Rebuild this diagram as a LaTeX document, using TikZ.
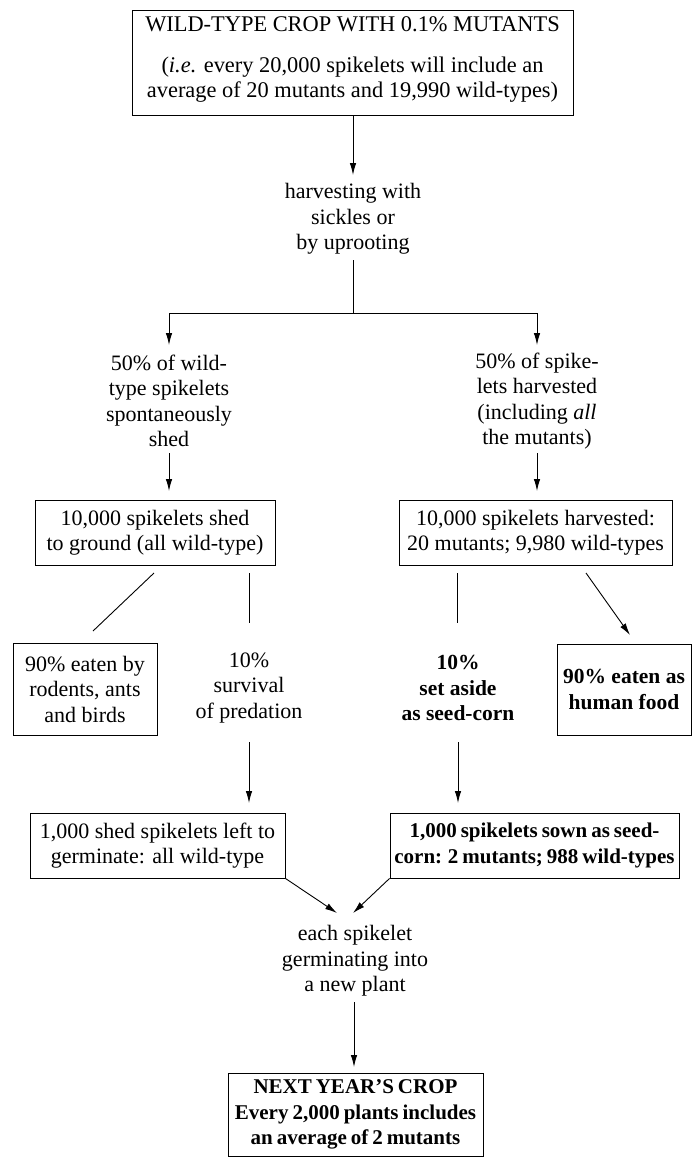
\documentclass[tikz,border=0pt]{standalone}
\usepackage{fontspec}
\setmainfont{Liberation Serif}
\usetikzlibrary{arrows.meta}
\newcommand\bfnarrowfont{\fontsize{21}{25.5}\selectfont\bfseries\spaceskip=0.19em plus 0.05em\relax}
\newcommand\bfplainfont{\fontsize{21.5}{25.5}\selectfont\bfseries}
\begin{document}
\begin{tikzpicture}[x=1pt,y=-1pt,
  every node/.style={font=\fontsize{22}{25.5}\selectfont, align=center, inner sep=0pt},
  bftxt/.style={font=\bfnarrowfont},
  bfwide/.style={font=\bfplainfont},
  box/.style={draw, line width=0.9pt},
  ln/.style={line width=0.9pt},
  arr/.style={line width=0.9pt, -{Latex[length=12pt,width=6.5pt]}}]
\useasboundingbox (0,0) rectangle (692,1157);

% boxes and texts
\node[box, minimum width=441pt, minimum height=105pt] (top) at (352.5,62.5) {};
\node[font=\fontsize{22.4}{25}\selectfont] (toptxt) at (352.5,59) {WILD-TYPE CROP WITH 0.1\% MUTANTS\\[16pt](\textit{i.e.} every 20,000 spikelets will include an\\average of 20 mutants and 19,990 wild-types)};
\node (harv) at (353,219) {harvesting with\\sickles or\\by uprooting};
\node (lt) at (169,401) {50\% of wild-\\type spikelets\\spontaneously\\shed};
\node (rt) at (537,401) {50\% of spike-\\lets harvested\\(including \textit{all}\\the mutants)};
\node[box, minimum width=240pt, minimum height=65pt] (lbox) at (155,532.5) {10,000 spikelets shed\\to ground (all wild-type)};
\node[box, minimum width=273pt, minimum height=65pt] (rbox) at (535.5,532.5) {10,000 spikelets harvested:\\20 mutants; 9,980 wild-types};
\node[box, minimum width=144pt, minimum height=92pt] (eat1) at (85,689) {90\% eaten by\\rodents, ants\\and birds};
\node (surv) at (249,688) {10\%\\survival\\of predation};
\node[bfwide] (seed) at (458,688) {10\%\\set aside\\as seed-corn};
\node[box, bfwide, minimum width=134pt, minimum height=91pt] (eat2) at (624,689.5) {90\% eaten as\\human food};
\node[box, minimum width=255pt, minimum height=65pt] (lbox4) at (157.5,845.5) {1,000 shed spikelets left to\\germinate: all wild-type};
\node[box, bftxt, minimum width=289pt, minimum height=65pt] (rbox4) at (534.5,845.5) {1,000 spikelets sown as seed-\\corn: 2 mutants; 988 wild-types};
\node (germ) at (355,961) {each spikelet\\germinating into\\a new plant};
\node[box, bftxt, minimum width=255pt, minimum height=83pt] (next) at (355.5,1114.5) {NEXT YEAR’S CROP\\Every 2,000 plants includes\\an average of 2 mutants};

% connector end points
\coordinate (a1) at (353,175);
\coordinate (b0) at (353,260);
\coordinate (split) at (353,313);
\coordinate (ltin) at (169,345);
\coordinate (rtin) at (537,345);
\coordinate (ltout) at (169,453);
\coordinate (lboxin) at (169,491);
\coordinate (rtout) at (537,453);
\coordinate (rboxin) at (537,491);
\coordinate (d1) at (154,573);
\coordinate (d1e) at (93,631);
\coordinate (v1) at (249,573);
\coordinate (v1e) at (249,623);
\coordinate (v2) at (457,573);
\coordinate (v2e) at (457,623);
\coordinate (d2) at (586,573);
\coordinate (d2e) at (630,635);
\coordinate (s1) at (249,742);
\coordinate (s1e) at (249,803);
\coordinate (s2) at (458,742);
\coordinate (s2e) at (458,803);
\coordinate (g1) at (337,913);
\coordinate (g2) at (353,913);
\coordinate (g3) at (354,1002);
\coordinate (g4) at (354,1067);

% connectors
\draw[arr] (top.south -| a1) -- (a1);
\draw[ln] (b0) -- (split);
\draw[arr] (split) -| (ltin);
\draw[arr] (split) -| (rtin);
\draw[arr] (ltout) -- (lboxin);
\draw[arr] (rtout) -- (rboxin);
\draw[ln] (d1) -- (d1e);
\draw[ln] (v1) -- (v1e);
\draw[ln] (v2) -- (v2e);
\draw[arr] (d2) -- (d2e);
\draw[arr] (s1) -- (s1e);
\draw[arr] (s2) -- (s2e);
\draw[arr] (lbox4.south east) -- (g1);
\draw[arr] (rbox4.south west) -- (g2);
\draw[arr] (g3) -- (g4);
\end{tikzpicture}
\end{document}
